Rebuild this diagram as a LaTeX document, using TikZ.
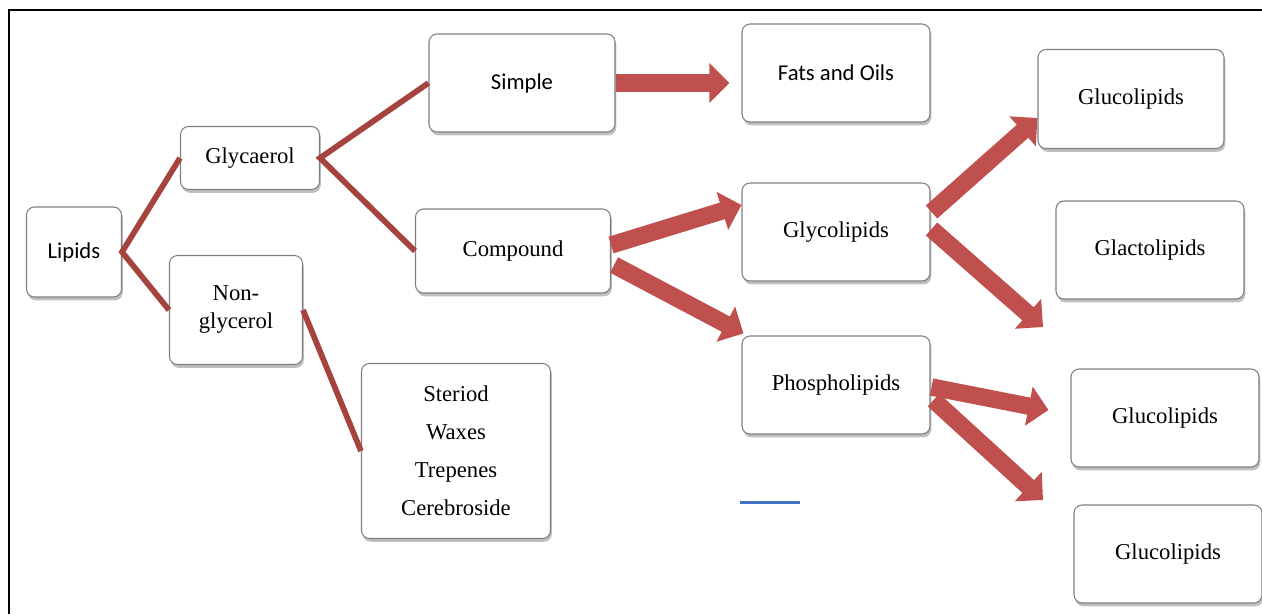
\documentclass[tikz,border=0pt]{standalone}
\usepackage{fontspec}
\setmainfont{Liberation Serif}
\newfontfamily\carlito{Carlito}
\usetikzlibrary{arrows.meta,shadows,calc}
\definecolor{linkred}{HTML}{A5443F}
\definecolor{arrowred}{HTML}{C0504D}
\definecolor{boxgray}{HTML}{7F7F7F}
\definecolor{strayblue}{HTML}{4472C4}

\begin{document}
\begin{tikzpicture}[x=0.75pt,y=-0.75pt,
        box/.style={draw=boxgray,line width=0.8pt,fill=white,rounded corners=6pt,inner sep=0pt,
          minimum width=141pt,minimum height=73.5pt,align=center,
          font=\fontsize{17}{21}\selectfont,
          drop shadow={shadow xshift=1pt,shadow yshift=-2.5pt,fill=black!50,opacity=0.5}},
        sans/.style={font=\carlito\fontsize{17}{21}\selectfont},
        link/.style={draw=linkred,line width=4.3pt,line join=miter},
        fat/.style={draw=arrowred,line width=13pt,-{Triangle[length=15pt,width=29pt]}}]
        \useasboundingbox (0,0) rectangle (1262,614);

        \node[box,sans,minimum width=71.25pt,minimum height=67.5pt] (L) at (74,252) {Lipids};
        \node[box,minimum width=104.25pt,minimum height=47.25pt] (G) at (250,158) {Glycaerol};
        \node[box,minimum width=99.75pt,minimum height=81.75pt] (NG) at (236,310) {Non-\\glycerol};
        \node[box,sans,minimum width=139.5pt] (S) at (522,83) {Simple};
        \node[box,minimum width=146.25pt,minimum height=63pt] (C) at (513,251) {Compound};
        \node[box,minimum width=141.75pt,minimum height=131.25pt,font=\fontsize{17}{28.5}\selectfont] (ST) at (456,451) {Steriod\\Waxes\\Trepenes\\Cerebroside};
        \node[box,sans] (F) at (836,73) {Fats and Oils};
        \node[box] (GL) at (836,232) {Glycolipids};
        \node[box] (PL) at (836,385) {Phospholipids};
        \node[box,minimum width=139.5pt,minimum height=74.25pt] (GU1) at (1131,99) {Glucolipids};
        \node[box] (GA) at (1150,250) {Glactolipids};
        \node[box] (GU2) at (1165,418) {Glucolipids};
        \node[box] (GU3) at (1168,554) {Glucolipids};

        \draw[link] (G.west) -- (L.east) -- (NG.west);
        \draw[link] (S.west) -- (G.east) -- (C.west);
        \draw[link] (NG.east) -- (ST.west);

        \coordinate (g) at (1043,327);
        \coordinate (p) at (1043,500);

        \draw[fat] (S.east) -- ($(S.east -| F.west)+(-12,0)$);
        \draw[fat] ($(C.east)+(0,-6)$) -- ($(GL.west)+(0,-27)$);
        \draw[fat] ($(C.east)+(3,14)$) -- ($(PL.north west)+(2,-2)$);
        \draw[fat] ($(GL.east)+(1,-20)$) -- ($(GU1.west)+(0,19)$);
        \draw[fat] ($(GL.east)+(1,-3)$) -- (g);
        \draw[fat] ($(PL.east)+(1,2)$) -- ($(GU2.west)+(-22,-8)$);
        \draw[fat] ($(PL.east)+(3,15)$) -- (p);

        \draw[line width=1.5pt] (9,614) -- (9,10) -- (1262,10);
        \draw[strayblue,line width=2.25pt] (740,502) -- (800,502);
    \end{tikzpicture}
\end{document}
